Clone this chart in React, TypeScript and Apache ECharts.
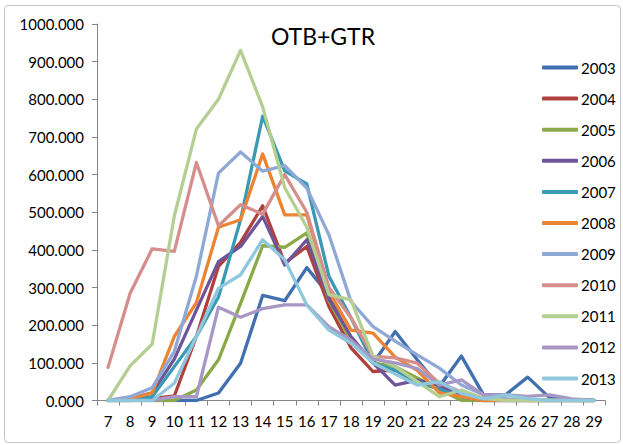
import React, { useEffect, useRef } from "react";
import * as echarts from "echarts";

const categories = ["7","8","9","10","11","12","13","14","15","16","17","18","19","20","21","22","23","24","25","26","27","28","29"];
const yTicks = [0, 100, 200, 300, 400, 500, 600, 700, 800, 900, 1000];
const titleText = "OTB+GTR";

const s2003 = [0,0,0,0,0,20,99,279,265,353,280,160,99,183,108,37,118,15,15,62,7,0,0];
const s2004 = [0,0,5,12,170,356,420,517,365,409,250,140,77,81,50,30,10,0,0,0,0,0,0];
const s2005 = [0,0,0,0,28,108,258,411,407,445,265,160,100,90,60,30,0,0,0,0,0,0,0];
const s2006 = [0,5,20,110,240,369,409,489,360,427,270,170,100,41,54,40,10,0,0,0,0,0,0];
const s2007 = [0,0,10,90,170,275,480,755,610,575,330,220,99,80,50,30,10,0,0,0,0,0,0];
const s2008 = [0,5,20,170,260,460,480,655,493,493,290,187,179,115,80,20,10,0,0,0,0,0,0];
const s2009 = [0,10,34,130,330,604,660,609,624,564,440,263,196,158,121,86,41,15,5,0,0,0,0];
const s2010 = [88,285,403,396,632,464,520,495,600,500,300,220,117,113,99,46,23,5,0,0,0,0,0];
const s2011 = [0,92,150,490,721,800,930,780,565,460,281,267,117,90,50,10,28,6,0,0,0,0,0];
const s2012 = [0,0,0,10,10,248,221,244,254,254,196,160,110,100,85,41,55,15,15,11,15,4,0];
const s2013 = [0,0,0,46,170,298,334,427,374,254,187,152,100,70,41,50,19,4,15,5,0,0,0];

const seriesNames = ["2003","2004","2005","2006","2007","2008","2009","2010","2011","2012","2013"];
const seriesData = [s2003, s2004, s2005, s2006, s2007, s2008, s2009, s2010, s2011, s2012, s2013];
const colors = ["#4170B0","#B0403D","#8AAA4A","#6F5597","#3A9AB4","#EC8533","#8FA9D6","#D68E8C","#B5CF92","#A897C4","#8FC8DC"];

const FONT = "Lato, 'Liberation Sans', sans-serif";

export default function App() {
  const ref = useRef<HTMLDivElement>(null);
  useEffect(() => {
    if (!ref.current) return;
    const chart = echarts.init(ref.current, null, { renderer: "svg" });
    chart.setOption({
      animation: false,
      backgroundColor: "#ffffff",
      color: colors,
      textStyle: { fontFamily: FONT },
      title: {
        text: titleText,
        left: 318,
        top: 19,
        textAlign: "center",
        textStyle: { fontFamily: FONT, fontSize: 23, fontWeight: "normal", color: "#000" },
      },
      graphic: [
        {
          type: "rect",
          shape: { x: 4.5, y: 5.5, width: 616, height: 437, r: 4 },
          style: { fill: "none", stroke: "#c4c4c4", lineWidth: 1 },
          silent: true,
          z: -1,
        },
      ],
      legend: {
        orient: "vertical",
        left: 537,
        top: 55,
        itemWidth: 36,
        itemHeight: 4,
        itemGap: 16.1,
        icon: "roundRect",
        textStyle: { fontFamily: FONT, fontSize: 15, color: "#000", padding: [0, 0, 0, -2] },
        data: seriesNames,
      },
      grid: { left: 97, right: 18, top: 24, bottom: 44.5, containLabel: false },
      xAxis: {
        type: "category",
        data: categories,
        boundaryGap: true,
        axisLine: { lineStyle: { color: "#868686", width: 1 } },
        axisTick: { show: true, alignWithLabel: false, length: 5, lineStyle: { color: "#868686" } },
        axisLabel: { color: "#000", fontFamily: FONT, fontSize: 15, margin: 13, interval: 0 },
        splitLine: { show: false },
      },
      yAxis: {
        type: "value",
        min: yTicks[0],
        max: yTicks[yTicks.length - 1],
        interval: 100,
        axisLine: { show: true, lineStyle: { color: "#868686", width: 1 } },
        axisTick: { show: true, length: 5, lineStyle: { color: "#868686" } },
        axisLabel: {
          color: "#000",
          fontFamily: FONT,
          fontSize: 15,
          margin: 13,
          formatter: (v: number) => v.toFixed(3),
        },
        splitLine: { show: false },
      },
      series: seriesNames.map((name, i) => ({
        name,
        type: "line",
        data: seriesData[i],
        symbol: "none",
        showSymbol: false,
        lineStyle: { width: 3.3, color: colors[i], join: "round", cap: "round" },
        itemStyle: { color: colors[i] },
        z: 2,
      })),
    });
    return () => chart.dispose();
  }, []);
  return (
    <div
      ref={ref}
      style={{ position: "fixed", left: 0, top: 0, width: 623, height: 445 }}
    />
  );
}
